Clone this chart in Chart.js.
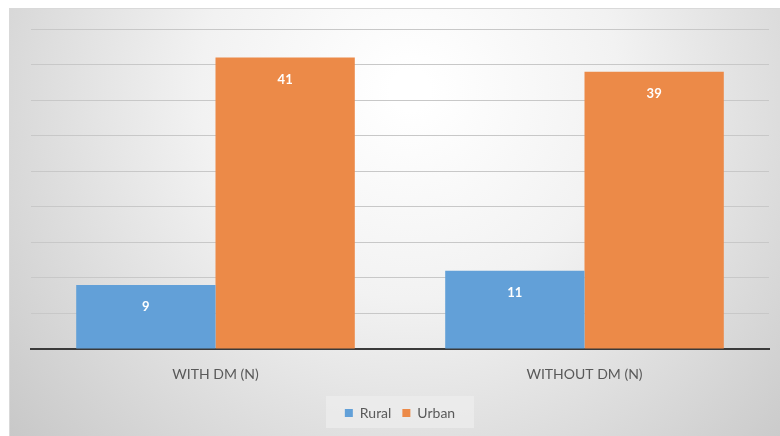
<!DOCTYPE html>
<html>
<head>
<meta charset="utf-8">
<script src="https://cdn.jsdelivr.net/npm/chart.js@4"></script>
<style>
    html, body { margin: 0; padding: 0; background: #ffffff; }
    #wrap { width: 780px; height: 436px; position: relative; }
</style>
</head>
<body>
<div id="wrap"><canvas id="dm-chart"></canvas></div>
<script>
const categories = ['WITH DM (N)', 'WITHOUT DM (N)'];
const ruralValues = [9, 11];
const urbanValues = [41, 39];
const yMax = 45;
const yStep = 5;

// soft grey radial panel behind everything
const panelBackground = {
    id: 'panelBackground',
    beforeDraw(chart) {
        const ctx = chart.ctx;
        const w = chart.width, h = chart.height;
        ctx.save();
        const grad = ctx.createRadialGradient(410, 90, 20, 410, 90, 560);
        grad.addColorStop(0, '#ffffff');
        grad.addColorStop(0.35, '#f2f2f2');
        grad.addColorStop(1, '#c4c4c4');
        ctx.fillStyle = grad;
        ctx.fillRect(9, 8, w - 9, h - 8);
        ctx.strokeStyle = '#d9d9d9';
        ctx.lineWidth = 1;
        ctx.strokeRect(9.5, 8.5, w - 9, h - 8);

        // lighter box behind the legend
        const lg = chart.legend;
        if (lg) {
            ctx.fillStyle = 'rgba(235,235,235,0.9)';
            ctx.fillRect(lg.left + (lg.width - 148) / 2, lg.top + 1, 148, 32);
        }
        ctx.restore();
    }
};

// white value labels just inside the top of each bar
const barValues = {
    id: 'barValues',
    afterDatasetsDraw(chart) {
        const ctx = chart.ctx;
        ctx.save();
        ctx.fillStyle = '#ffffff';
        ctx.font = 'bold 13px Lato, "Open Sans", sans-serif';
        ctx.textAlign = 'center';
        ctx.textBaseline = 'middle';
        chart.data.datasets.forEach((ds, i) => {
            chart.getDatasetMeta(i).data.forEach((bar, j) => {
                ctx.fillText(String(ds.data[j]), bar.x, bar.y + 22);
            });
        });
        ctx.restore();
    }
};

const chart = new Chart(document.querySelector('#dm-chart'), {
    type: 'bar',
    data: {
        labels: categories,
        datasets: [{
            label: 'Rural',
            data: ruralValues,
            backgroundColor: '#62a0d8',
            borderWidth: 0,
        }, {
            label: 'Urban',
            data: urbanValues,
            backgroundColor: '#ec8a48',
            borderWidth: 0,
        }]
    },
    options: {
        responsive: true,
        maintainAspectRatio: false,
        animation: false,
        layout: { padding: { left: 31, right: 11, top: 29, bottom: 6 } },
        datasets: {
            bar: { categoryPercentage: 0.755, barPercentage: 1.0 }
        },
        scales: {
            x: {
                grid: { display: false, drawTicks: false },
                border: { display: true, color: '#3a3a3a', width: 2 },
                ticks: {
                    color: '#595959',
                    padding: 17,
                    font: { family: 'Lato, "Open Sans", sans-serif', size: 14 }
                },
                afterFit: (scale) => { scale.height = 46; }
            },
            y: {
                min: 0,
                max: yMax,
                ticks: { display: false, stepSize: yStep },
                grid: { color: '#c8c8c8', lineWidth: 1, drawTicks: false },
                border: { display: false },
                afterFit: (scale) => { scale.width = 0; }
            }
        },
        plugins: {
            legend: {
                position: 'bottom',
                labels: {
                    color: '#595959',
                    boxWidth: 8,
                    boxHeight: 8,
                    padding: 11,
                    font: { family: 'Lato, "Open Sans", sans-serif', size: 14 }
                }
            },
            tooltip: { enabled: false }
        }
    },
    plugins: [panelBackground, barValues]
});
</script>
</body>
</html>
